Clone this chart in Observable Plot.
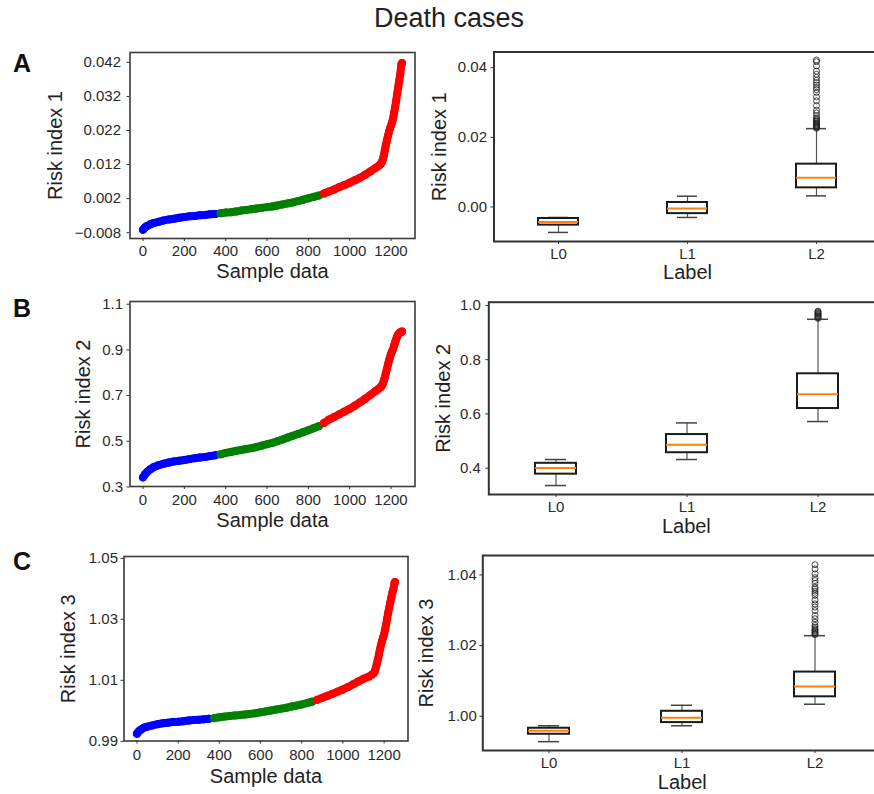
<!DOCTYPE html>
<html>
<head>
<meta charset="utf-8">
<script src="https://cdn.jsdelivr.net/npm/d3@7"></script>
<script src="https://cdn.jsdelivr.net/npm/@observablehq/plot@0.6"></script>
<style>
  body { margin: 0; background: #fff; }
  #fig { position: relative; width: 874px; height: 794px; overflow: hidden; background: #fff;
         font-family: "Liberation Sans", Arial, sans-serif; color: #222; }
  .abs { position: absolute; }
  .title { left: 249px; width: 400px; text-align: center; top: 5px; font-size: 27px; line-height: 1; }
  .letter { left: 13px; font-size: 25px; font-weight: bold; line-height: 1; color: #111; }
  #fig svg { position: absolute; max-width: none !important; }
</style>
</head>
<body>
<div id="fig">
  <div class="abs title">Death cases</div>
  <div class="abs letter" style="top:51px">A</div>
  <div class="abs letter" style="top:296px">B</div>
  <div class="abs letter" style="top:549px">C</div>
</div>
<script>
// ---------------- data ----------------
const sampleIndex = [
  0, 10, 20, 35, 50, 75, 100, 125, 150, 175,
  200, 225, 250, 275, 300, 325, 350, 375, 400, 425,
  450, 475, 500, 525, 550, 575, 600, 625, 650, 675,
  700, 725, 750, 775, 800, 825, 850, 875, 900, 925,
  950, 975, 1000, 1025, 1050, 1075, 1100, 1125, 1140, 1150,
  1155, 1160, 1165, 1170, 1175, 1180, 1185, 1190, 1195, 1200,
  1205, 1210, 1215, 1220, 1225, 1230, 1235, 1240, 1245, 1250,
  1253
];
const risk1 = [
  -0.0071, -0.0064, -0.0060, -0.0055, -0.0052, -0.0048, -0.0044, -0.0041, -0.0039, -0.0036,
  -0.0034, -0.0032, -0.0031, -0.0029, -0.0028, -0.0026, -0.0025, -0.0023, -0.0021, -0.0020,
  -0.0018, -0.0015, -0.0013, -0.0011, -0.0009, -0.0007, -0.0005, -0.0003, 0.0000, 0.0003,
  0.0006, 0.0009, 0.0013, 0.0017, 0.0021, 0.0025, 0.0029, 0.0035, 0.0041, 0.0047,
  0.0054, 0.0060, 0.0067, 0.0074, 0.0081, 0.0090, 0.0100, 0.0110, 0.0116, 0.0122,
  0.0127, 0.0134, 0.0147, 0.0162, 0.0177, 0.0191, 0.0204, 0.0216, 0.0226, 0.0235,
  0.0244, 0.0255, 0.0272, 0.0289, 0.0308, 0.0328, 0.0348, 0.0367, 0.0386, 0.0414,
  0.0418
];
const risk2 = [
  0.342, 0.356, 0.366, 0.377, 0.386, 0.395, 0.402, 0.407, 0.412, 0.415,
  0.418, 0.422, 0.426, 0.429, 0.431, 0.435, 0.439, 0.443, 0.449, 0.453,
  0.458, 0.462, 0.466, 0.470, 0.475, 0.481, 0.487, 0.493, 0.500, 0.508,
  0.516, 0.524, 0.532, 0.540, 0.548, 0.557, 0.566, 0.580, 0.595, 0.606,
  0.618, 0.630, 0.642, 0.656, 0.671, 0.686, 0.703, 0.720, 0.730, 0.737,
  0.743, 0.751, 0.765, 0.780, 0.798, 0.817, 0.835, 0.853, 0.868, 0.882,
  0.893, 0.904, 0.919, 0.934, 0.947, 0.960, 0.968, 0.973, 0.977, 0.979,
  0.981
];
const risk3 = [
  0.9925, 0.9934, 0.9939, 0.9945, 0.9948, 0.9952, 0.9956, 0.9959, 0.9961, 0.9963,
  0.9964, 0.9966, 0.9968, 0.9970, 0.9971, 0.9972, 0.9974, 0.9976, 0.9979, 0.9981,
  0.9983, 0.9985, 0.9986, 0.9988, 0.9990, 0.9992, 0.9995, 0.9998, 1.0001, 1.0004,
  1.0007, 1.0010, 1.0014, 1.0017, 1.0021, 1.0025, 1.0030, 1.0036, 1.0043, 1.0049,
  1.0056, 1.0063, 1.0070, 1.0078, 1.0087, 1.0096, 1.0105, 1.0112, 1.0118, 1.0123,
  1.0130, 1.0142, 1.0155, 1.0169, 1.0185, 1.0202, 1.0216, 1.0229, 1.0240, 1.0251,
  1.0267, 1.0284, 1.0303, 1.0322, 1.0338, 1.0355, 1.0371, 1.0387, 1.0398, 1.0418,
  1.0422
];
const groupBreaks = [367, 866];          // first sample of L1, first sample of L2
const groupColors = ["#0000ff", "#008000", "#ff0000"];
const sampleTicks = [0, 200, 400, 600, 800, 1000, 1200];

const labels = ["L0", "L1", "L2"];
// box-plot summaries (whisker low, Q1, median, Q3, whisker high) per label
const box1Lo  = [-0.0073, -0.0030, 0.0032];
const box1Q1  = [-0.0052, -0.0019, 0.0055];
const box1Med = [-0.0043, -0.0004, 0.0084];
const box1Q3  = [-0.0033, 0.0013, 0.0123];
const box1Hi  = [-0.0030, 0.0031, 0.0225];
const out1 = [0.0226, 0.0228, 0.0230, 0.0232, 0.0234, 0.0236, 0.0238, 0.0240, 0.0243, 0.0246,
              0.0249, 0.0252, 0.0256, 0.0262, 0.0270, 0.0278, 0.0291, 0.0305, 0.0316, 0.0329,
              0.0337, 0.0343, 0.0350, 0.0357, 0.0364, 0.0372, 0.0381, 0.0390, 0.0405, 0.0417, 0.0422];

const box2Lo  = [0.336, 0.432, 0.572];
const box2Q1  = [0.378, 0.457, 0.620];
const box2Med = [0.401, 0.486, 0.673];
const box2Q3  = [0.418, 0.524, 0.748];
const box2Hi  = [0.432, 0.567, 0.949];
const out2 = [0.952, 0.955, 0.958, 0.961, 0.964, 0.967, 0.970, 0.973, 0.976, 0.979];

const box3Lo  = [0.9928, 0.9973, 1.0034];
const box3Q1  = [0.9949, 0.9982, 1.0055];
const box3Med = [0.9959, 0.9996, 1.0084];
const box3Q3  = [0.9966, 1.0014, 1.0125];
const box3Hi  = [0.9973, 1.0031, 1.0228];
const out3 = [1.0231, 1.0233, 1.0235, 1.0238, 1.0241, 1.0244, 1.0247, 1.0252, 1.0257, 1.0266,
              1.0276, 1.0285, 1.0299, 1.0309, 1.0318, 1.0329, 1.0342, 1.0348, 1.0354, 1.0360,
              1.0365, 1.0376, 1.0384, 1.0392, 1.0403, 1.0417, 1.0429];

const yTicks1L = [-0.008, 0.002, 0.012, 0.022, 0.032, 0.042];
const yTicks2L = [0.3, 0.5, 0.7, 0.9, 1.1];
const yTicks3L = [0.99, 1.01, 1.03, 1.05];
const yTicks1R = [0.00, 0.02, 0.04];
const yTicks2R = [0.4, 0.6, 0.8, 1.0];
const yTicks3R = [1.00, 1.02, 1.04];

// ---------------- drawing ----------------
const FONT = '"Liberation Sans", Arial, sans-serif';
const TICK_FS = 15;
const TICK_COLOR = "#2a2a2a";
const fig = document.getElementById("fig");
const fmt = (n) => (d) => d.toFixed(n).replace("-", "\u2212");

function place(svg, left, top) {
  svg.style.left = left + "px";
  svg.style.top = top + "px";
  fig.appendChild(svg);
}

// tick marks from Plot's axes, tick labels as text marks (explicit font size)
function axesMarks(c, xTicksOpt, xTickText) {
  return [
    Plot.axisX({...xTicksOpt, tickSize: 3, label: null, tickFormat: () => ""}),
    Plot.axisY({ticks: c.yTicks, tickSize: 3, label: null, tickFormat: () => ""}),
    Plot.text(c.yTicks, {y: d => d, text: c.yFmt, frameAnchor: "left", dx: -(3 + c.yPad),
      textAnchor: "end", lineAnchor: "middle", fontSize: TICK_FS, fill: TICK_COLOR}),
    xTickText
  ];
}

function scatterPanel(c) {
  const data = sampleIndex.map((i, k) => ({
    i, v: c.values[k],
    g: i < groupBreaks[0] ? 0 : i < groupBreaks[1] ? 1 : 2
  }));
  const svg = Plot.plot({
    width: c.width, height: c.height,
    marginLeft: c.m[0], marginTop: c.m[1], marginRight: c.m[2], marginBottom: c.m[3],
    style: {fontFamily: FONT, color: "#333", background: "transparent", overflow: "visible"},
    x: {domain: [-63, 1316]},
    y: {domain: c.yDomain},
    marks: [
      Plot.line(data, {x: "i", y: "v", z: "g", stroke: d => groupColors[d.g], strokeWidth: 8,
        strokeLinecap: "round", strokeLinejoin: "round"}),
      Plot.dot(data, {x: "i", y: "v", r: 4, fill: d => groupColors[d.g], stroke: null}),
      Plot.frame({stroke: "#3a3a3a", strokeWidth: 1.6}),
      ...axesMarks(c, {ticks: sampleTicks},
        Plot.text(sampleTicks, {x: d => d, text: d => String(d), frameAnchor: "bottom", dy: 6.5 + c.xPad,
          textAnchor: "middle", lineAnchor: "top", fontSize: TICK_FS, fill: TICK_COLOR})),
      Plot.text([c.yLabel], {text: d => d, frameAnchor: "left", dx: c.yLabelDx, rotate: -90,
        textAnchor: "middle", lineAnchor: "middle", fontSize: 20, fill: "#222"}),
      Plot.text(["Sample data"], {text: d => d, frameAnchor: "bottom", dy: c.xLabelDy,
        textAnchor: "middle", lineAnchor: "middle", fontSize: 20, fill: "#222"})
    ]
  });
  place(svg, c.left, c.top);
}

function boxPanel(c) {
  const stats = labels.map((label, k) => ({
    label, lo: c.lo[k], q1: c.q1[k], med: c.med[k], q3: c.q3[k], hi: c.hi[k]
  }));
  const outs = c.outliers.map(v => ({label: "L2", v}));
  const svg = Plot.plot({
    width: c.width, height: c.height,
    marginLeft: c.m[0], marginTop: c.m[1], marginRight: c.m[2], marginBottom: c.m[3],
    style: {fontFamily: FONT, color: "#333", background: "transparent", overflow: "visible"},
    x: {type: "band", domain: labels, paddingInner: 0.69, paddingOuter: 0.345},
    y: {domain: c.yDomain},
    marks: [
      Plot.ruleX(stats, {x: "label", y1: "lo", y2: "q1", stroke: "#555", strokeWidth: 1.2}),
      Plot.ruleX(stats, {x: "label", y1: "q3", y2: "hi", stroke: "#555", strokeWidth: 1.2}),
      Plot.tickY(stats, {x: "label", y: "lo", insetLeft: 10, insetRight: 10, stroke: "#444", strokeWidth: 1.5}),
      Plot.tickY(stats, {x: "label", y: "hi", insetLeft: 10, insetRight: 10, stroke: "#444", strokeWidth: 1.5}),
      Plot.barY(stats, {x: "label", y1: "q1", y2: "q3", fill: "#fff", stroke: "#1a1a1a", strokeWidth: 2}),
      Plot.tickY(stats, {x: "label", y: "med", stroke: "#ff7f0e", strokeWidth: 2}),
      Plot.dot(outs, {x: "label", y: "v", r: 3, stroke: "#222", strokeWidth: 0.8, fill: "none"}),
      Plot.frame({stroke: "#333", strokeWidth: 2}),
      ...axesMarks(c, {},
        Plot.text(labels, {x: d => d, text: d => d, frameAnchor: "bottom", dy: 6.5,
          textAnchor: "middle", lineAnchor: "top", fontSize: TICK_FS, fill: TICK_COLOR})),
      Plot.text([c.yLabel], {text: d => d, frameAnchor: "left", dx: c.yLabelDx, rotate: -90,
        textAnchor: "middle", lineAnchor: "middle", fontSize: 20, fill: "#222"}),
      Plot.text(["Label"], {text: d => d, frameAnchor: "bottom", dy: c.xLabelDy,
        textAnchor: "middle", lineAnchor: "middle", fontSize: 20, fill: "#222"})
    ]
  });
  place(svg, c.left, c.top);
}

// Row A
scatterPanel({values: risk1, yDomain: [-0.0097, 0.0449], yTicks: yTicks1L, yFmt: fmt(3), yLabel: "Risk index 1",
  left: 0, top: 40, width: 430, height: 250, m: [129.5, 12, 15.5, 52],
  yLabelDx: -74.5, xLabelDy: 32.6, xPad: 0, yPad: 6});
boxPanel({lo: box1Lo, q1: box1Q1, med: box1Med, q3: box1Q3, hi: box1Hi, outliers: out1,
  yDomain: [-0.0099, 0.0445], yTicks: yTicks1R, yFmt: fmt(2), yLabel: "Risk index 1",
  left: 430, top: 40, width: 460, height: 250, m: [63.5, 11.5, 9.5, 49],
  yLabelDx: -54.5, xLabelDy: 31.5, yPad: 4});

// Row B
scatterPanel({values: risk2, yDomain: [0.302, 1.112], yTicks: yTicks2L, yFmt: fmt(1), yLabel: "Risk index 2",
  left: 0, top: 290, width: 430, height: 250, m: [129.5, 11, 15.5, 54],
  yLabelDx: -46.2, xLabelDy: 34.3, xPad: 1, yPad: 4});
boxPanel({lo: box2Lo, q1: box2Q1, med: box2Med, q3: box2Q3, hi: box2Hi, outliers: out2,
  yDomain: [0.303, 1.012], yTicks: yTicks2R, yFmt: fmt(1), yLabel: "Risk index 2",
  left: 430, top: 290, width: 460, height: 250, m: [58.3, 11.7, 6.6, 46],
  yLabelDx: -45.3, xLabelDy: 32.5, yPad: 5});

// Row C
scatterPanel({values: risk3, yDomain: [0.9901, 1.0506], yTicks: yTicks3L, yFmt: fmt(2), yLabel: "Risk index 3",
  left: 0, top: 540, width: 430, height: 254, m: [123.5, 16, 22.5, 53.5],
  yLabelDx: -55.2, xLabelDy: 36, xPad: 2, yPad: 3});
boxPanel({lo: box3Lo, q1: box3Q1, med: box3Med, q3: box3Q3, hi: box3Hi, outliers: out3,
  yDomain: [0.9903, 1.0455], yTicks: yTicks3R, yFmt: fmt(2), yLabel: "Risk index 3",
  left: 430, top: 540, width: 460, height: 254, m: [52.3, 15, 8.7, 44],
  yLabelDx: -56.3, xLabelDy: 32.5, yPad: 3});
</script>
</body>
</html>
